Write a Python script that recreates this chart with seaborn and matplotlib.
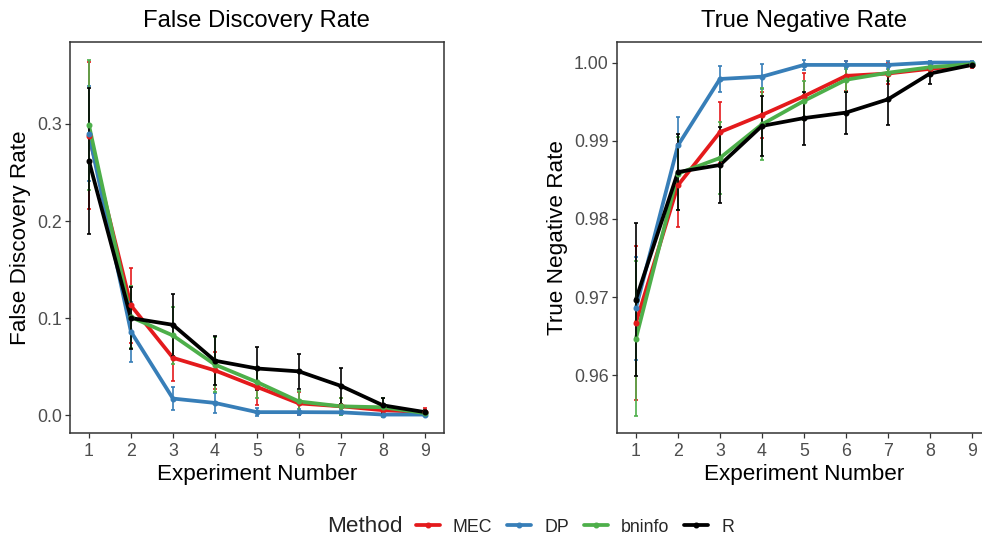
import numpy as np
import pandas as pd
import matplotlib
matplotlib.use("Agg")
import matplotlib.pyplot as plt
from matplotlib.lines import Line2D
import seaborn as sns

experiments = [1, 2, 3, 4, 5, 6, 7, 8, 9]
methods = ["MEC", "DP", "bninfo", "R"]
colors = {"MEC": "#E41A1C", "DP": "#377EB8", "bninfo": "#4DAF4A", "R": "#000000"}

fdr_mec = [0.288, 0.113, 0.059, 0.046, 0.029, 0.012, 0.009, 0.005, 0.003]
fdr_dp = [0.290, 0.086, 0.017, 0.0125, 0.003, 0.003, 0.0028, 0.0005, 0.0005]
fdr_bninfo = [0.299, 0.101, 0.082, 0.052, 0.034, 0.014, 0.009, 0.008, 0.002]
fdr_r = [0.262, 0.100, 0.093, 0.056, 0.048, 0.045, 0.030, 0.010, 0.003]

fdr_sd_mec = [0.076, 0.039, 0.024, 0.019, 0.019, 0.012, 0.009, 0.006, 0.004]
fdr_sd_dp = [0.049, 0.031, 0.012, 0.010, 0.004, 0.003, 0.003, 0.001, 0.001]
fdr_sd_bninfo = [0.067, 0.032, 0.029, 0.028, 0.016, 0.011, 0.009, 0.010, 0.002]
fdr_sd_r = [0.075, 0.032, 0.032, 0.025, 0.022, 0.018, 0.019, 0.008, 0.002]

tnr_mec = [0.9667, 0.9843, 0.9911, 0.9933, 0.9957, 0.9983, 0.9986, 0.9992, 0.9997]
tnr_dp = [0.9686, 0.9894, 0.9979, 0.9982, 0.9997, 0.9997, 0.9997, 1.0, 1.0]
tnr_bninfo = [0.9647, 0.9858, 0.9878, 0.9921, 0.9951, 0.9978, 0.9987, 0.9994, 0.9998]
tnr_r = [0.9697, 0.9860, 0.9869, 0.9919, 0.9929, 0.9936, 0.9953, 0.9986, 0.9997]

tnr_sd_mec = [0.0098, 0.0053, 0.0039, 0.0029, 0.0030, 0.0019, 0.0014, 0.0008, 0.0004]
tnr_sd_dp = [0.0066, 0.0036, 0.0017, 0.0016, 0.0006, 0.0005, 0.0005, 0.0002, 0.0002]
tnr_sd_bninfo = [0.0099, 0.0047, 0.0046, 0.0046, 0.0025, 0.0016, 0.0010, 0.0006, 0.0002]
tnr_sd_r = [0.0098, 0.0049, 0.0049, 0.0038, 0.0034, 0.0027, 0.0033, 0.0014, 0.0003]

fdr = {"MEC": fdr_mec, "DP": fdr_dp, "bninfo": fdr_bninfo, "R": fdr_r}
fdr_sd = {"MEC": fdr_sd_mec, "DP": fdr_sd_dp, "bninfo": fdr_sd_bninfo, "R": fdr_sd_r}
tnr = {"MEC": tnr_mec, "DP": tnr_dp, "bninfo": tnr_bninfo, "R": tnr_r}
tnr_sd = {"MEC": tnr_sd_mec, "DP": tnr_sd_dp, "bninfo": tnr_sd_bninfo, "R": tnr_sd_r}

rows = []
for m in methods:
    for i, e in enumerate(experiments):
        rows.append({"Experiment": e, "Method": m,
                     "FDR": fdr[m][i], "FDR_sd": fdr_sd[m][i],
                     "TNR": tnr[m][i], "TNR_sd": tnr_sd[m][i]})
df = pd.DataFrame(rows)

sns.set_theme(style="white")
plt.rcParams["font.family"] = ["Liberation Sans", "DejaVu Sans"]

W, H = 982, 537
fig = plt.figure(figsize=(W / 100, H / 100), dpi=100)

def rect(l, t, r, b):
    return [l / W, 1 - b / H, (r - l) / W, (b - t) / H]

ax1 = fig.add_axes(rect(70, 42, 443.5, 433))
ax2 = fig.add_axes(rect(617, 42, 990.5, 433))

def panel(ax, col, sdcol, title, ylabel, ylim, yticks, fmt):
    sns.lineplot(data=df, x="Experiment", y=col, hue="Method", hue_order=methods,
                 palette=colors, ax=ax, linewidth=2.7, errorbar=None,
                 legend=False, zorder=2)
    for m in methods:
        sub = df[df["Method"] == m]
        ax.errorbar(sub["Experiment"], sub[col], yerr=sub[sdcol], fmt="o",
                    color=colors[m], ecolor=colors[m], elinewidth=1.2,
                    capsize=1.7, capthick=1.2, markersize=3.3, zorder=3)
    ax.set_xlim(0.55, 9.44)
    ax.set_ylim(*ylim)
    ax.set_xticks(experiments)
    ax.set_xticklabels([str(e) for e in experiments])
    ax.set_yticks(yticks)
    ax.set_yticklabels([fmt.format(v) for v in yticks])
    ax.set_title(title, fontsize=17.2, pad=10.5, color="black")
    ax.set_xlabel("Experiment Number", fontsize=16.2, labelpad=2.5, color="black")
    ax.set_ylabel(ylabel, fontsize=16.2, labelpad=4, color="black")
    ax.tick_params(axis="both", which="major", length=3.5, width=0.9,
                   color="#333333", labelsize=12.8, labelcolor="#4D4D4D",
                   direction="out", pad=2.5, bottom=True, left=True)
    ax.tick_params(axis="x", pad=4)
    for s in ax.spines.values():
        s.set_color("#333333")
        s.set_linewidth(1.1)
    ax.grid(False)

panel(ax1, "FDR", "FDR_sd", "False Discovery Rate", "False Discovery Rate",
      (-0.0185, 0.3845), [0.0, 0.1, 0.2, 0.3], "{:.1f}")
panel(ax2, "TNR", "TNR_sd", "True Negative Rate", "True Negative Rate",
      (0.95263, 1.00263), [0.96, 0.97, 0.98, 0.99, 1.00], "{:.2f}")

handles = [Line2D([0], [0], color=colors[m], linewidth=2.7, marker="o",
                  markersize=3.3) for m in methods]
fig.text(327 / W, 1 - 527 / H, "Method", fontsize=16.2, va="center", ha="left")
fig.legend(handles, methods, loc="center left", bbox_to_anchor=(416 / W, 1 - 527 / H),
           ncol=4, frameon=False, fontsize=12.8, handlelength=1.35,
           handletextpad=0.73, columnspacing=0.84, borderpad=0, borderaxespad=0)

fig.savefig("out.png", dpi=100)
